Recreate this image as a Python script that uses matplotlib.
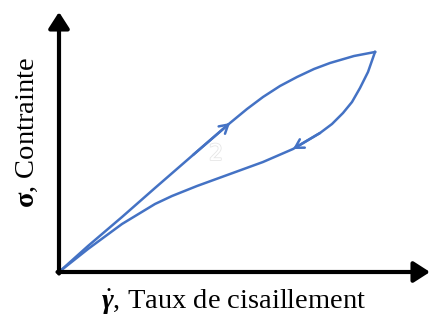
import matplotlib
matplotlib.use("Agg")
import matplotlib.pyplot as plt
import matplotlib.patheffects as pe

plt.rcParams['mathtext.fontset'] = 'custom'
plt.rcParams['mathtext.rm'] = 'Liberation Serif'
plt.rcParams['mathtext.it'] = 'Liberation Serif:italic'
plt.rcParams['mathtext.bf'] = 'Liberation Serif:bold'
plt.rcParams['mathtext.bfit'] = 'Liberation Serif:italic:bold'

# Loading curve (up) and unloading curve (down)
up_x = [0, 29, 63, 96, 134, 171, 188, 204, 221, 238, 255, 271, 295, 316]
up_y = [0, 26, 55, 84, 117, 149, 163, 175, 186, 195, 203, 209, 216, 220]
down_x = [316, 309, 301, 293, 284, 273, 261, 234, 204, 171, 138, 113, 96, 63, 29, 0]
down_y = [220, 200, 184, 170, 159, 148, 139, 123, 110, 98, 86, 76, 68, 48, 23, 0]
up_arrow_idx = 5      # arrow on loading branch
down_arrow_idx = 7    # arrow on unloading branch

W, H = 430, 323
fig = plt.figure(figsize=(W / 100, H / 100), dpi=100)
ox, oy = 59, 272
ax = fig.add_axes([ox / W, (H - oy) / H, 316 / W, 220 / H])
ax.set_xlim(0, 316)
ax.set_ylim(0, 220)
ax.axis('off')

col = '#4472C4'
ax.plot(up_x, up_y, color=col, lw=1.8, solid_joinstyle='round', clip_on=False)
ax.plot(down_x, down_y, color=col, lw=1.8, solid_joinstyle='round', clip_on=False)

for xs, ys, i in [(up_x, up_y, up_arrow_idx), (down_x, down_y, down_arrow_idx)]:
    ax.annotate('', xy=(xs[i], ys[i]), xytext=(xs[i - 1], ys[i - 1]),
                arrowprops=dict(arrowstyle='->,head_length=0.6,head_width=0.35',
                                color=col, lw=1.8, shrinkA=0, shrinkB=0),
                annotation_clip=False)

def fpx(x, y):
    return (x / W, (H - y) / H)

fig.add_artist(matplotlib.patches.FancyArrowPatch(
    fpx(ox, oy + 1.5), fpx(ox, 12), transform=fig.transFigure,
    arrowstyle='-|>,head_length=7,head_width=4.5', color='black', lw=3,
    shrinkA=0, shrinkB=0, mutation_scale=1.4))
fig.add_artist(matplotlib.patches.FancyArrowPatch(
    fpx(ox - 1.5, oy), fpx(430, oy), transform=fig.transFigure,
    arrowstyle='-|>,head_length=7,head_width=4.5', color='black', lw=3,
    shrinkA=0, shrinkB=0, mutation_scale=1.4))

fig.text(*fpx(27, 132), r'$\mathbf{σ}$, Contrainte', rotation=90,
         ha='center', va='center', fontsize=20.5, family='Liberation Serif')
fig.text(*fpx(234, 302), r'$\dot{\mathbfit{γ}}$, Taux de cisaillement',
         ha='center', va='center', fontsize=20.5, family='Liberation Serif')
fig.text(*fpx(216, 154), '2', ha='center', va='center', fontsize=16,
         color='white', family='DejaVu Sans',
         path_effects=[pe.withStroke(linewidth=1.2, foreground='#e6e6e6')])

fig.savefig('out.png', dpi=100)
